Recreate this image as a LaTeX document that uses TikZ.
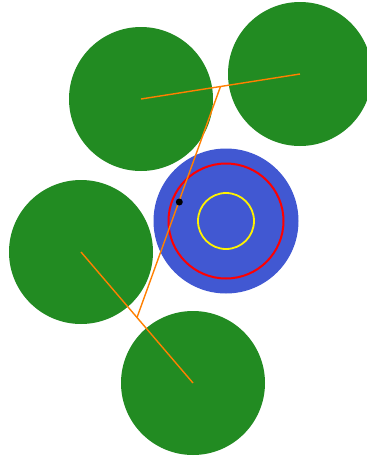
\documentclass[tikz,border=0pt]{standalone}
\usepackage{tikz}
\usetikzlibrary{calc}
\definecolor{leafgreen}{RGB}{34,139,34}
\definecolor{discblue}{RGB}{65,88,210}
\definecolor{linkorange}{RGB}{255,128,0}

\begin{document}
\begin{tikzpicture}[x=1pt,y=-1pt]
        \clip (0,0) rectangle (367,459);
        \fill[white] (0,0) rectangle (367,459);

        \coordinate (G1) at (141,99);
        \coordinate (G2) at (300,74);
        \coordinate (G3) at (81,252);
        \coordinate (G4) at (193,383);
        \coordinate (B) at (226,221);
        \coordinate (P) at (179.3,202);

        % зелені кола
        \fill[leafgreen] (G1) circle (72);
        \fill[leafgreen] (G2) circle (72);
        \fill[leafgreen] (G3) circle (72);
        \fill[leafgreen] (G4) circle (72);

        \fill[discblue] (B) circle (72.5);
        \draw[red, line width=2] (B) circle (57.5);
        \draw[yellow, line width=1.8] (B) circle (28);

        % середини відрізків
        \coordinate (M1) at ($(G1)!0.5!(G2)$);
        \coordinate (M2) at ($(G3)!0.5!(G4)$);

        \draw[linkorange, line width=1.4] (G1) -- (G2);
        \draw[linkorange, line width=1.4] (G3) -- (G4);
        \draw[linkorange, line width=1.4] (M1) -- (M2);

        \fill (P) circle (3.5);
    \end{tikzpicture}
\end{document}
